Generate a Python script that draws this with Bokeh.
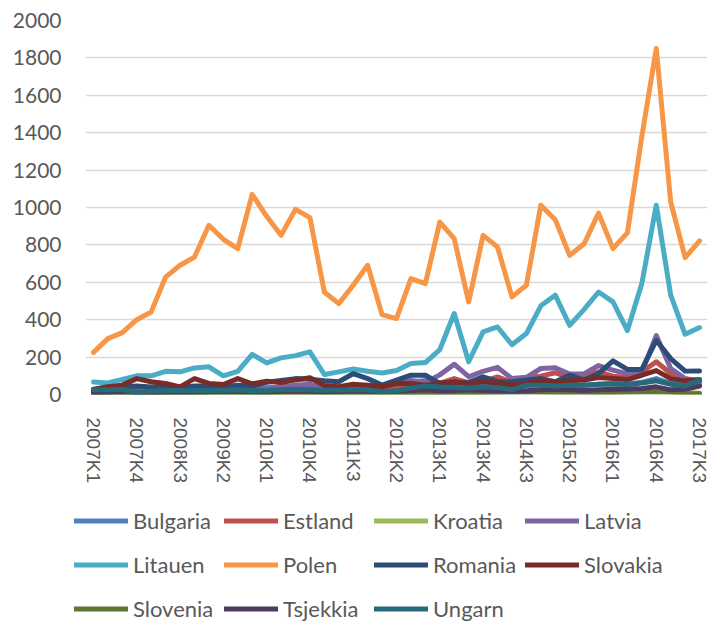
from bokeh.plotting import figure
from bokeh.models import Range1d, FixedTicker, Legend, LegendItem, ColumnDataSource
from bokeh.embed import file_html
from bokeh.resources import INLINE

quarters = ["2007K1", "2007K2", "2007K3", "2007K4", "2008K1", "2008K2", "2008K3", "2008K4",
            "2009K1", "2009K2", "2009K3", "2009K4", "2010K1", "2010K2", "2010K3", "2010K4",
            "2011K1", "2011K2", "2011K3", "2011K4", "2012K1", "2012K2", "2012K3", "2012K4",
            "2013K1", "2013K2", "2013K3", "2013K4", "2014K1", "2014K2", "2014K3", "2014K4",
            "2015K1", "2015K2", "2015K3", "2015K4", "2016K1", "2016K2", "2016K3", "2016K4",
            "2017K1", "2017K2", "2017K3"]
label_quarters = ["2007K1", "2007K4", "2008K3", "2009K2", "2010K1", "2010K4", "2011K3", "2012K2",
                  "2013K1", "2013K4", "2014K3", "2015K2", "2016K1", "2016K4", "2017K3"]
y_ticks = [0, 200, 400, 600, 800, 1000, 1200, 1400, 1600, 1800, 2000]

bulgaria = [12, 15, 18, 15, 20, 22, 25, 20, 25, 28, 30, 28, 30, 35, 40, 35, 30, 32, 40, 45, 40, 50,
            65, 75, 45, 50, 45, 55, 50, 45, 50, 55, 50, 45, 50, 55, 60, 55, 65, 85, 60, 50, 55]
estland = [20, 25, 30, 30, 25, 30, 30, 35, 35, 30, 35, 30, 35, 40, 45, 45, 35, 30, 35, 35, 30, 40,
           50, 55, 60, 85, 62, 70, 94, 65, 91, 98, 116, 91, 98, 121, 98, 91, 121, 175, 112, 85, 68]
kroatia = [3, 4, 5, 4, 5, 6, 5, 6, 7, 8, 6, 7, 8, 10, 9, 8, 7, 8, 9, 10, 8, 9,
           10, 12, 10, 12, 14, 12, 15, 18, 22, 20, 18, 16, 15, 14, 15, 16, 18, 20, 15, 10, 8]
latvia = [15, 20, 25, 20, 15, 20, 25, 30, 25, 20, 30, 25, 35, 40, 50, 55, 35, 30, 40, 35, 40, 60,
          75, 65, 105, 162, 95, 124, 145, 85, 92, 139, 143, 110, 110, 155, 130, 110, 121, 315, 139, 85, 73]
litauen = [67, 62, 80, 100, 100, 124, 121, 142, 148, 100, 124, 215, 169, 196, 208, 228, 107, 121, 136, 124, 115, 128,
           166, 171, 240, 433, 175, 335, 361, 266, 326, 474, 531, 370, 455, 548, 495, 342, 593, 1012, 531, 322, 358]
polen = [225, 299, 331, 400, 441, 628, 691, 735, 905, 830, 780, 1070, 953, 851, 990, 946, 548, 486, 584, 691, 427, 406,
         620, 593, 922, 833, 495, 851, 789, 522, 584, 1012, 935, 744, 806, 970, 780, 864, 1380, 1850, 1030, 732, 821]
romania = [20, 30, 40, 45, 40, 45, 35, 45, 45, 40, 50, 45, 65, 75, 85, 82, 73, 68, 112, 85, 50, 77,
           103, 103, 59, 62, 65, 94, 70, 68, 77, 85, 68, 103, 77, 112, 180, 134, 134, 290, 192, 125, 126]
slovakia = [28, 41, 50, 85, 68, 59, 41, 85, 59, 53, 85, 57, 71, 64, 78, 90, 48, 42, 55, 50, 42, 59,
            59, 50, 62, 68, 59, 68, 62, 50, 59, 73, 68, 73, 77, 91, 85, 80, 103, 128, 85, 73, 80]
slovenia = [5, 6, 5, 4, 6, 5, 7, 6, 5, 6, 8, 7, 6, 8, 9, 7, 8, 6, 7, 8, 10, 9,
            8, 12, 10, 11, 9, 8, 10, 12, 14, 12, 11, 10, 9, 10, 11, 12, 13, 14, 12, 5, 4]
tsjekkia = [10, 12, 15, 12, 10, 12, 14, 12, 15, 18, 16, 15, 14, 18, 20, 18, 15, 16, 20, 18, 15, 18,
            22, 25, 20, 22, 25, 22, 20, 18, 20, 25, 28, 25, 22, 25, 28, 30, 32, 41, 25, 28, 45]
ungarn = [25, 24, 28, 10, 18, 22, 22, 20, 22, 22, 25, 20, 22, 25, 28, 25, 23, 24, 26, 25, 15, 20,
          35, 45, 40, 38, 35, 40, 38, 25, 50, 50, 45, 50, 50, 55, 55, 53, 62, 73, 55, 45, 77]

series_names = ["Bulgaria", "Estland", "Kroatia", "Latvia", "Litauen", "Polen",
                "Romania", "Slovakia", "Slovenia", "Tsjekkia", "Ungarn"]
series_values = [bulgaria, estland, kroatia, latvia, litauen, polen,
                 romania, slovakia, slovenia, tsjekkia, ungarn]
colors = ["#4F81BD", "#C0504D", "#9BBB59", "#8064A2", "#4BACC6", "#F79646",
          "#2C4D75", "#772C2A", "#5F7530", "#4D3B62", "#276A7C"]

text_color = "#595959"

# main chart
p = figure(frame_width=622, frame_height=374, output_backend="svg", toolbar_location=None,
           x_range=Range1d(-0.55, len(quarters) - 0.45), y_range=Range1d(0, 2000),
           min_border_left=85, min_border_right=4, min_border_top=20, min_border_bottom=101)
p.outline_line_color = None
p.background_fill_color = "white"
p.border_fill_color = "white"

# legend-only panel below the chart
p2 = figure(width=711, height=128, output_backend="svg", toolbar_location=None,
            x_range=Range1d(0, 711), y_range=Range1d(0, 128),
            x_axis_location=None, y_axis_location=None,
            min_border_left=0, min_border_right=0, min_border_top=0, min_border_bottom=0)
p2.outline_line_color = None
p2.grid.grid_line_color = None
p2.border_fill_color = "white"

idx = list(range(len(quarters)))
items = []
for name, vals, col in zip(series_names, series_values, colors):
    src = ColumnDataSource(dict(x=idx, y=vals, q=quarters))
    p.line("x", "y", source=src, line_color=col, line_width=5,
           line_join="round", line_cap="round")
    r2 = p2.line("x", "y", source=src, line_color=col, line_width=5,
                 line_join="round", line_cap="round", visible=False)
    items.append(LegendItem(label=name, renderers=[r2]))

# axes
p.xgrid.grid_line_color = None
p.ygrid.grid_line_color = "#D9D9D9"
p.ygrid.grid_line_width = 1.3
p.ygrid.ticker = FixedTicker(ticks=y_ticks)

p.yaxis.ticker = FixedTicker(ticks=y_ticks)
p.yaxis.axis_line_color = None
p.yaxis.major_tick_line_color = None
p.yaxis.minor_tick_line_color = None
p.yaxis.major_label_text_font = "Lato"
p.yaxis.major_label_text_font_size = "21px"
p.yaxis.major_label_text_color = text_color
p.yaxis.major_label_standoff = 18

tick_pos = [quarters.index(q) for q in label_quarters]
p.xaxis.ticker = FixedTicker(ticks=tick_pos)
p.xaxis.major_label_overrides = {i: quarters[i] for i in tick_pos}
p.xaxis.axis_line_color = None
p.xaxis.major_tick_line_color = None
p.xaxis.minor_tick_line_color = None
p.xaxis.major_label_orientation = "vertical"
p.xaxis.major_label_text_font = "Liberation Sans"
p.xaxis.major_label_text_font_size = "19px"
p.xaxis.major_label_text_color = text_color
p.xaxis.major_label_standoff = 17

legend = Legend(items=items, ncols=4, location=(74, -3), orientation="horizontal",
                label_text_font="Lato", label_text_font_size="22px",
                label_text_color=text_color, glyph_width=54, glyph_height=35,
                label_height=35, label_standoff=5, label_width=82, spacing=9,
                padding=0, margin=0, border_line_color=None,
                background_fill_alpha=0, inactive_fill_alpha=0)
p2.add_layout(legend)

open("out.html", "w").write(file_html([p, p2], INLINE))
